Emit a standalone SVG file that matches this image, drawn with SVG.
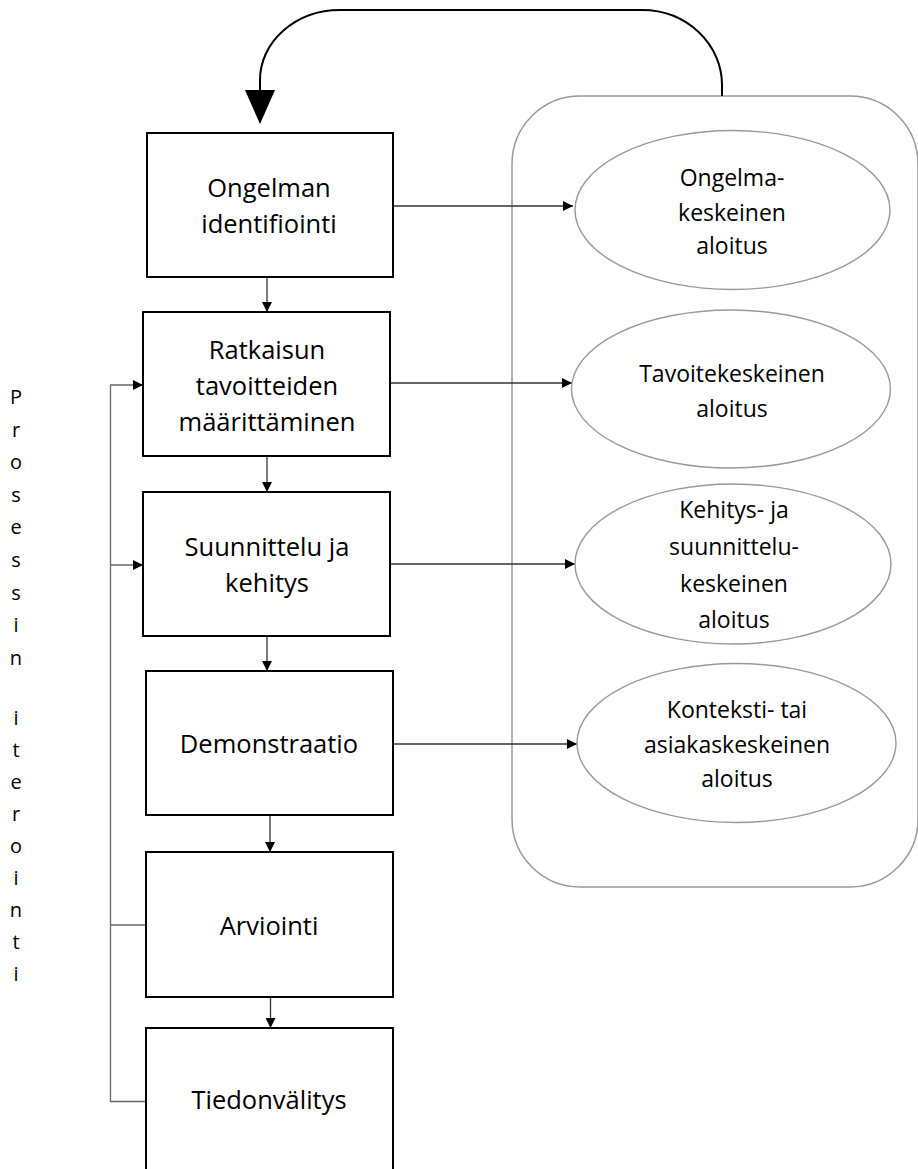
<svg xmlns="http://www.w3.org/2000/svg" width="918" height="1169" viewBox="0 0 918 1169">
<style>
.box{fill:#fff;stroke:#000;stroke-width:2}
.ell{fill:#fff;stroke:#999;stroke-width:1.4}
.cont{fill:none;stroke:#999;stroke-width:1.5}
.lbl{font-family:"Open Sans",sans-serif;font-size:25.5px;fill:#000;text-anchor:middle}
.elbl{font-family:"Open Sans",sans-serif;font-size:23px;fill:#000;text-anchor:middle}
.vt{font-family:"Open Sans",sans-serif;font-size:20px;fill:#000;text-anchor:middle}
.con{fill:none;stroke:#333;stroke-width:1.3}
.fb{fill:none;stroke:#666;stroke-width:1.3}
</style>
<defs>
<marker id="ah" viewBox="0 0 10 10" refX="10" refY="5" markerWidth="10" markerHeight="10" markerUnits="userSpaceOnUse" orient="auto">
<path d="M0,0 L10,5 L0,10 z" fill="#000"/>
</marker>
</defs>
<rect width="918" height="1169" fill="#fff"/>
<g id="container">
<rect class="cont" x="512" y="96" width="406" height="791" rx="68" ry="68"/>
</g>
<g id="connectors">
<path d="M722,96 V85 A80,75 0 0 0 642,10 H340 A80,70 0 0 0 260,80 V92" fill="none" stroke="#000" stroke-width="2"/>
<polygon points="245,90 275,90 260,124" fill="#000"/>
<line class="con" x1="267" y1="277" x2="267" y2="312" marker-end="url(#ah)"/>
<line class="con" x1="267" y1="456" x2="267" y2="492" marker-end="url(#ah)"/>
<line class="con" x1="267" y1="636" x2="267" y2="671" marker-end="url(#ah)"/>
<line class="con" x1="270" y1="815" x2="270" y2="852" marker-end="url(#ah)"/>
<line class="con" x1="270.5" y1="997" x2="270.5" y2="1028" marker-end="url(#ah)"/>
<line class="con" x1="393" y1="206" x2="573" y2="206" marker-end="url(#ah)"/>
<line class="con" x1="390" y1="383" x2="572" y2="383" marker-end="url(#ah)"/>
<line class="con" x1="390" y1="564" x2="575" y2="564" marker-end="url(#ah)"/>
<line class="con" x1="393" y1="744" x2="577" y2="744" marker-end="url(#ah)"/>
<path class="fb" d="M146,1101.5 H110.5 V385 H143" marker-end="url(#ah)"/>
<path class="fb" d="M110.5,565 H143" marker-end="url(#ah)"/>
<path class="fb" d="M146,925 H110.5"/>
</g>
<g id="n1"><rect class="box" x="147" y="133" width="246" height="144"/>
<text class="lbl" x="269" y="197">Ongelman</text><text class="lbl" x="269" y="233">identifiointi</text></g>
<g id="n2"><rect class="box" x="143" y="312" width="247" height="144"/>
<text class="lbl" x="267" y="359">Ratkaisun</text><text class="lbl" x="267" y="395">tavoitteiden</text><text class="lbl" x="267" y="431">määrittäminen</text></g>
<g id="n3"><rect class="box" x="143" y="492" width="247" height="144"/>
<text class="lbl" x="267" y="556">Suunnittelu ja</text><text class="lbl" x="267" y="592">kehitys</text></g>
<g id="n4"><rect class="box" x="146" y="671" width="247" height="144"/>
<text class="lbl" x="269" y="753">Demonstraatio</text></g>
<g id="n5"><rect class="box" x="146" y="852" width="247" height="145"/>
<text class="lbl" x="269" y="935">Arviointi</text></g>
<g id="n6"><rect class="box" x="146" y="1028" width="247" height="146"/>
<text class="lbl" x="269" y="1109">Tiedonvälitys</text></g>
<g id="e1"><ellipse class="ell" cx="732.5" cy="210" rx="157.5" ry="79.5"/>
<text class="elbl" x="732" y="186">Ongelma-</text><text class="elbl" x="732" y="221">keskeinen</text><text class="elbl" x="732" y="254">aloitus</text></g>
<g id="e2"><ellipse class="ell" cx="731" cy="389" rx="159.5" ry="79"/>
<text class="elbl" x="732" y="382">Tavoitekeskeinen</text><text class="elbl" x="732" y="417">aloitus</text></g>
<g id="e3"><ellipse class="ell" cx="733" cy="564" rx="158" ry="80"/>
<text class="elbl" x="734" y="518">Kehitys- ja</text><text class="elbl" x="734" y="555">suunnittelu-</text><text class="elbl" x="734" y="592">keskeinen</text><text class="elbl" x="734" y="628">aloitus</text></g>
<g id="e4"><ellipse class="ell" cx="736.5" cy="743" rx="159.5" ry="79.5"/>
<text class="elbl" x="737" y="718">Konteksti- tai</text><text class="elbl" x="737" y="753">asiakaskeskeinen</text><text class="elbl" x="737" y="787">aloitus</text></g>
<g id="vlabel">
<text class="vt"><tspan x="16" y="404">P</tspan><tspan x="16" y="436.6">r</tspan><tspan x="16" y="469.2">o</tspan><tspan x="16" y="501.8">s</tspan><tspan x="16" y="534.4">e</tspan><tspan x="16" y="567">s</tspan><tspan x="16" y="599.6">s</tspan><tspan x="16" y="632.2">i</tspan><tspan x="16" y="665">n</tspan><tspan x="16" y="725">i</tspan><tspan x="16" y="757">t</tspan><tspan x="16" y="789">e</tspan><tspan x="16" y="821">r</tspan><tspan x="16" y="853">o</tspan><tspan x="16" y="885">i</tspan><tspan x="16" y="917">n</tspan><tspan x="16" y="949">t</tspan><tspan x="16" y="981">i</tspan></text>
</g>
</svg>
